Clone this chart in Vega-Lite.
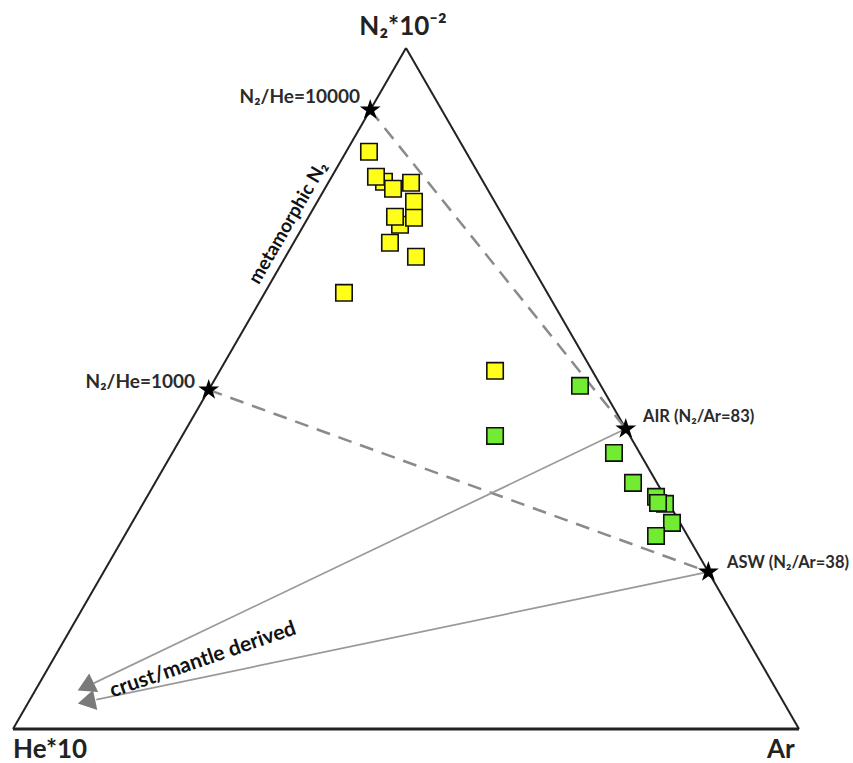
{
  "$schema": "https://vega.github.io/schema/vega-lite/v6.json",
  "width": 853,
  "height": 763,
  "padding": 0,
  "autosize": {"type": "none"},
  "background": "white",
  "config": {"view": {"stroke": null}},
  "datasets": {
    "edges": [
      {"x": 0, "y": 0, "x2": 0.5, "y2": 0.866, "w": "side"},
      {"x": 0.5, "y": 0.866, "x2": 1, "y2": 0, "w": "side"},
      {"x": 0, "y": 0, "x2": 1, "y2": 0, "w": "base"}
    ],
    "mixing": [
      {"x": 0.4545, "y": 0.7872, "x2": 0.7796, "y2": 0.3817},
      {"x": 0.249, "y": 0.4313, "x2": 0.8847, "y2": 0.1997}
    ],
    "trends": [
      {"x": 0.7796, "y": 0.3817, "x2": 0.103, "y2": 0.0583},
      {"x": 0.8847, "y": 0.1997, "x2": 0.106, "y2": 0.0374}
    ],
    "headAir": [{"x": 0.0925, "y": 0.0538}],
    "headAsw": [{"x": 0.0935, "y": 0.0346}],
    "samples": [
      {"x": 0.4720, "y": 0.6959, "group": "N2-rich"},
      {"x": 0.4924, "y": 0.6412, "group": "N2-rich"},
      {"x": 0.4529, "y": 0.7341, "group": "N2-rich"},
      {"x": 0.4618, "y": 0.7023, "group": "N2-rich"},
      {"x": 0.4835, "y": 0.6870, "group": "N2-rich"},
      {"x": 0.5064, "y": 0.6947, "group": "N2-rich"},
      {"x": 0.5102, "y": 0.6705, "group": "N2-rich"},
      {"x": 0.4860, "y": 0.6514, "group": "N2-rich"},
      {"x": 0.5102, "y": 0.6501, "group": "N2-rich"},
      {"x": 0.4796, "y": 0.6183, "group": "N2-rich"},
      {"x": 0.5127, "y": 0.6005, "group": "N2-rich"},
      {"x": 0.4211, "y": 0.5547, "group": "N2-rich"},
      {"x": 0.6133, "y": 0.4555, "group": "N2-rich"},
      {"x": 0.7214, "y": 0.4364, "group": "atmospheric"},
      {"x": 0.6133, "y": 0.3727, "group": "atmospheric"},
      {"x": 0.7646, "y": 0.3511, "group": "atmospheric"},
      {"x": 0.7888, "y": 0.3130, "group": "atmospheric"},
      {"x": 0.8181, "y": 0.2952, "group": "atmospheric"},
      {"x": 0.8295, "y": 0.2863, "group": "atmospheric"},
      {"x": 0.8206, "y": 0.2875, "group": "atmospheric"},
      {"x": 0.8384, "y": 0.2621, "group": "atmospheric"},
      {"x": 0.8181, "y": 0.2455, "group": "atmospheric"}
    ],
    "stars": [
      {"x": 0.4545, "y": 0.7872},
      {"x": 0.249, "y": 0.4313},
      {"x": 0.7796, "y": 0.3817},
      {"x": 0.8847, "y": 0.1997}
    ],
    "leftLabels": [
      {"x": 0.4415, "y": 0.8041, "label": "N₂/He=10000"},
      {"x": 0.2316, "y": 0.4415, "label": "N₂/He=1000"}
    ],
    "rightLabels": [
      {"x": 0.8015, "y": 0.3969, "label": "AIR (N₂/Ar=83)"},
      {"x": 0.9084, "y": 0.2112, "label": "ASW (N₂/Ar=38)"}
    ],
    "apexLabel": [{"x": 0.4962, "y": 0.883, "label": "N₂*10⁻²"}],
    "baseLabels": [
      {"x": 0.0, "y": -0.0365, "label": "He*10"},
      {"x": 0.9593, "y": -0.0365, "label": "Ar"}
    ],
    "edgeNote": [{"x": 0.3499, "y": 0.6438, "label": "metamorphic N₂"}],
    "arrowNote": [{"x": 0.2417, "y": 0.0878, "label": "crust/mantle derived"}]
  },
  "layer": [
    {
      "data": {"name": "edges"},
      "mark": {"type": "rule", "color": "#222222"},
      "encoding": {
        "x": {"field": "x", "type": "quantitative", "axis": null, "scale": {"domain": [-0.01654, 1.0687], "nice": false, "zero": false}},
        "y": {"field": "y", "type": "quantitative", "axis": null, "scale": {"domain": [-0.04326, 0.92706], "nice": false, "zero": false}},
        "x2": {"field": "x2"},
        "y2": {"field": "y2"},
        "strokeWidth": {"field": "w", "type": "nominal", "scale": {"domain": ["side", "base"], "range": [2, 3]}, "legend": null}
      }
    },
    {
      "data": {"name": "mixing"},
      "mark": {"type": "rule", "color": "#8a8a8a", "strokeWidth": 2.5, "strokeDash": [14, 9]},
      "encoding": {
        "x": {"field": "x", "type": "quantitative"},
        "y": {"field": "y", "type": "quantitative"},
        "x2": {"field": "x2"},
        "y2": {"field": "y2"}
      }
    },
    {
      "data": {"name": "trends"},
      "mark": {"type": "rule", "color": "#999999", "strokeWidth": 1.7},
      "encoding": {
        "x": {"field": "x", "type": "quantitative"},
        "y": {"field": "y", "type": "quantitative"},
        "x2": {"field": "x2"},
        "y2": {"field": "y2"}
      }
    },
    {
      "data": {"name": "headAir"},
      "mark": {"type": "point", "shape": "triangle-right", "filled": true, "color": "#7a7a7a", "opacity": 1, "size": 420, "angle": 154},
      "encoding": {
        "x": {"field": "x", "type": "quantitative"},
        "y": {"field": "y", "type": "quantitative"}
      }
    },
    {
      "data": {"name": "headAsw"},
      "mark": {"type": "point", "shape": "triangle-right", "filled": true, "color": "#7a7a7a", "opacity": 1, "size": 420, "angle": 168},
      "encoding": {
        "x": {"field": "x", "type": "quantitative"},
        "y": {"field": "y", "type": "quantitative"}
      }
    },
    {
      "data": {"name": "samples"},
      "mark": {"type": "point", "shape": "square", "filled": true, "opacity": 1, "size": 270, "stroke": "#111111", "strokeWidth": 1.6},
      "encoding": {
        "x": {"field": "x", "type": "quantitative"},
        "y": {"field": "y", "type": "quantitative"},
        "fill": {"field": "group", "type": "nominal", "scale": {"domain": ["N2-rich", "atmospheric"], "range": ["#FFFF1A", "#72EC30"]}, "legend": null}
      }
    },
    {
      "data": {"name": "stars"},
      "mark": {"type": "point", "shape": "M0,-1L0.2245,-0.309L0.9511,-0.309L0.3633,0.118L0.5878,0.809L0,0.382L-0.5878,0.809L-0.3633,0.118L-0.9511,-0.309L-0.2245,-0.309Z", "filled": true, "color": "#000000", "opacity": 1, "size": 480},
      "encoding": {
        "x": {"field": "x", "type": "quantitative"},
        "y": {"field": "y", "type": "quantitative"}
      }
    },
    {
      "data": {"name": "leftLabels"},
      "mark": {"type": "text", "align": "right", "baseline": "middle", "font": "Lato", "fontWeight": "bold", "fontSize": 19, "color": "#2b2b2b"},
      "encoding": {
        "x": {"field": "x", "type": "quantitative"},
        "y": {"field": "y", "type": "quantitative"},
        "text": {"field": "label", "type": "nominal"}
      }
    },
    {
      "data": {"name": "rightLabels"},
      "mark": {"type": "text", "align": "left", "baseline": "middle", "font": "Lato", "fontWeight": "bold", "fontSize": 16.5, "color": "#2b2b2b"},
      "encoding": {
        "x": {"field": "x", "type": "quantitative"},
        "y": {"field": "y", "type": "quantitative"},
        "text": {"field": "label", "type": "nominal"}
      }
    },
    {
      "data": {"name": "apexLabel"},
      "mark": {"type": "text", "align": "center", "baseline": "alphabetic", "font": "Lato", "fontWeight": "bold", "fontSize": 26, "color": "#222222"},
      "encoding": {
        "x": {"field": "x", "type": "quantitative"},
        "y": {"field": "y", "type": "quantitative"},
        "text": {"field": "label", "type": "nominal"}
      }
    },
    {
      "data": {"name": "baseLabels"},
      "mark": {"type": "text", "align": "left", "baseline": "alphabetic", "font": "Lato", "fontWeight": "bold", "fontSize": 26, "color": "#222222"},
      "encoding": {
        "x": {"field": "x", "type": "quantitative"},
        "y": {"field": "y", "type": "quantitative"},
        "text": {"field": "label", "type": "nominal"}
      }
    },
    {
      "data": {"name": "edgeNote"},
      "mark": {"type": "text", "align": "center", "baseline": "middle", "angle": 300, "font": "Lato", "fontWeight": "bold", "fontSize": 19, "color": "#111111"},
      "encoding": {
        "x": {"field": "x", "type": "quantitative"},
        "y": {"field": "y", "type": "quantitative"},
        "text": {"field": "label", "type": "nominal"}
      }
    },
    {
      "data": {"name": "arrowNote"},
      "mark": {"type": "text", "align": "center", "baseline": "middle", "angle": 341, "font": "Lato", "fontWeight": "bold", "fontSize": 21, "color": "#111111"},
      "encoding": {
        "x": {"field": "x", "type": "quantitative"},
        "y": {"field": "y", "type": "quantitative"},
        "text": {"field": "label", "type": "nominal"}
      }
    }
  ]
}
